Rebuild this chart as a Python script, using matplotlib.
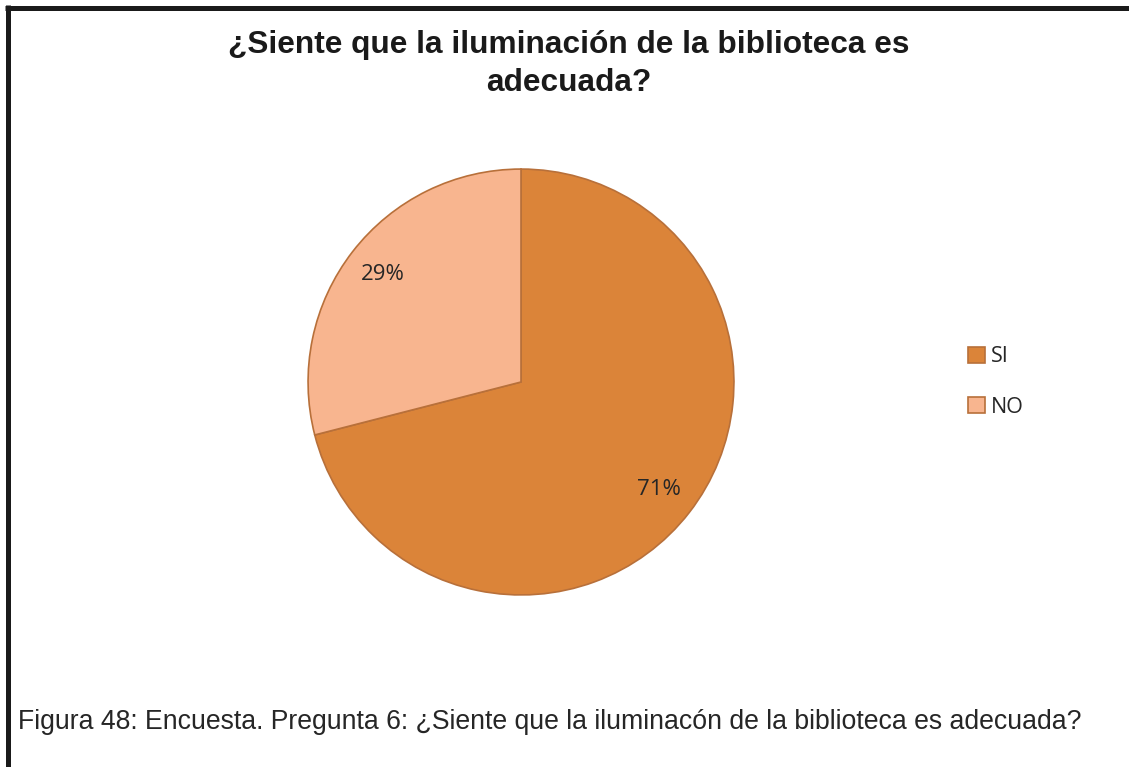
import matplotlib
matplotlib.use("Agg")
import matplotlib.pyplot as plt
from matplotlib.lines import Line2D
from matplotlib.patches import Patch

labels = ["SI", "NO"]
values = [71, 29]
colors = ["#DB8439", "#F8B58F"]
edge = "#B8703A"

title = "¿Siente que la iluminación de la biblioteca es\nadecuada?"
caption = "Figura 48: Encuesta. Pregunta 6: ¿Siente que la iluminacón de la biblioteca es adecuada?"

W, H = 1129, 767
fig = plt.figure(figsize=(W / 100, H / 100), dpi=100)

# pie axes: center (521,382) px, radius ~214 px
cx, cy, r = 521, 382, 214
ax = fig.add_axes([(cx - r) / W, (H - cy - r) / H, 2 * r / W, 2 * r / H])
wedges, texts, autotexts = ax.pie(values, colors=colors, startangle=90, counterclock=False,
                                  autopct="%1.0f%%", pctdistance=0.82, radius=1,
                                  wedgeprops=dict(edgecolor=edge, linewidth=1.2),
                                  textprops=dict(fontsize=16, color="#262626", family="Open Sans"))
ax.set_xlim(-1.005, 1.005)
ax.set_ylim(-1.005, 1.005)

# title
lines = title.split("\n")
fig.text(569 / W, 1 - 45 / H, lines[0], ha="center", va="center",
         fontsize=22.8, fontweight="bold", family="Liberation Sans", color="#1a1a1a")
fig.text(569 / W, 1 - 83 / H, lines[1], ha="center", va="center",
         fontsize=22.8, fontweight="bold", family="Liberation Sans", color="#1a1a1a")

# legend
handles = [Patch(facecolor=c, edgecolor=edge, linewidth=1.2) for c in colors]
fig.legend(handles, labels, loc="center left", bbox_to_anchor=(949 / W, 1 - 382 / H),
           frameon=False, handlelength=0.75, handleheight=0.75, handletextpad=0.3,
           labelspacing=1.35, prop=dict(family="Open Sans", size=15.5),
           labelcolor="#262626")

# caption
fig.text(18 / W, 1 - 722 / H, caption, ha="left", va="center",
         fontsize=19.2, family="Liberation Sans", color="#262626")

# border lines (top and left)
fig.add_artist(Line2D([7.5 / W, 7.5 / W], [0, 1 - 5 / H], transform=fig.transFigure,
                      color="#1a1a1a", linewidth=3.6, solid_capstyle="butt"))
fig.add_artist(Line2D([5 / W, 1], [1 - 7.5 / H, 1 - 7.5 / H], transform=fig.transFigure,
                      color="#1a1a1a", linewidth=3.6, solid_capstyle="butt"))

fig.savefig("out.png", dpi=100)
